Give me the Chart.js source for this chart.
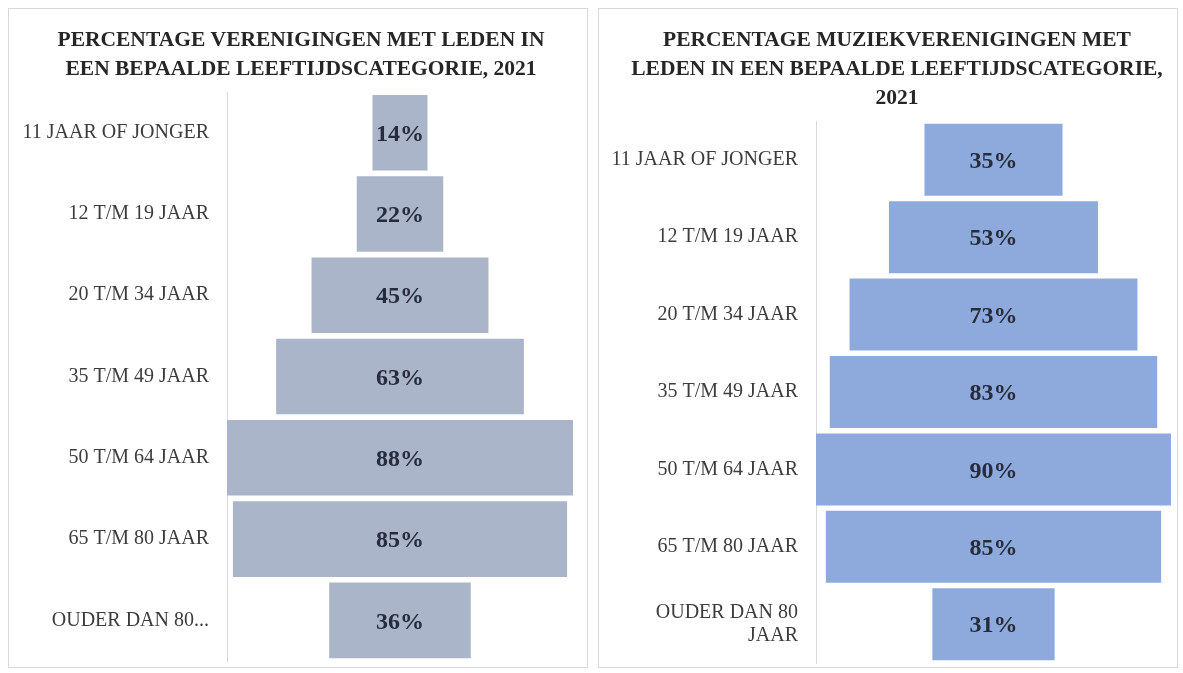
<!DOCTYPE html>
<html>
<head>
<meta charset="utf-8">
<script src="https://cdn.jsdelivr.net/npm/chart.js@4"></script>
<style>
  body { margin: 0; background: #fff; }
  .panel {
    position: absolute;
    top: 8px;
    width: 580px;
    height: 660px;
    border: 1px solid #d9d9d9;
    box-sizing: border-box;
    background: #fff;
  }
  #panel-left { left: 8px; }
  #panel-right { left: 598px; }
</style>
</head>
<body>
<div class="panel" id="panel-left"><canvas id="chart-left"></canvas></div>
<div class="panel" id="panel-right"><canvas id="chart-right"></canvas></div>

<script>
// ------------------------------------------------------------
// DATA
// ------------------------------------------------------------
const leftCategories = [
    "11 JAAR OF JONGER", "12 T/M 19 JAAR", "20 T/M 34 JAAR", "35 T/M 49 JAAR",
    "50 T/M 64 JAAR", "65 T/M 80 JAAR", "OUDER DAN 80..."
];
const leftValues = [14, 22, 45, 63, 88, 85, 36];

const rightCategories = [
    "11 JAAR OF JONGER", "12 T/M 19 JAAR", "20 T/M 34 JAAR", "35 T/M 49 JAAR",
    "50 T/M 64 JAAR", "65 T/M 80 JAAR", ["OUDER DAN 80", "JAAR"]
];
const rightValues = [35, 53, 73, 83, 90, 85, 31];

const leftTitle = ["PERCENTAGE VERENIGINGEN MET LEDEN IN", "EEN BEPAALDE LEEFTIJDSCATEGORIE, 2021"];
const rightTitle = ["PERCENTAGE MUZIEKVERENIGINGEN MET", "LEDEN IN EEN BEPAALDE LEEFTIJDSCATEGORIE,", "2021"];

// ------------------------------------------------------------
// Label plugin: percentage in the middle of each bar
// ------------------------------------------------------------
const centerLabels = {
    id: "centerLabels",
    afterDatasetsDraw(chart) {
        const ctx = chart.ctx;
        const meta = chart.getDatasetMeta(0);
        const values = chart.data.datasets[0].rawValues;
        ctx.save();
        ctx.font = "bold 24px 'Liberation Serif', serif";
        ctx.fillStyle = "#262c3c";
        ctx.textAlign = "center";
        ctx.textBaseline = "middle";
        meta.data.forEach((bar, i) => {
            const p = bar.getProps(["x", "base", "y"], true);
            ctx.fillText(values[i] + "%", (p.x + p.base) / 2, p.y + 2);
        });
        ctx.restore();
    }
};

// Nudge the title block sideways (the original title sits a bit right of centre)
const titleShift = {
    id: "titleShift",
    afterLayout(chart, args, opts) {
        const t = chart.titleBlock;
        if (t && opts.dx) {
            t.left += opts.dx;
            t.right += opts.dx;
        }
    }
};

// Funnel: every bar is centred on zero
function makeFunnel(canvasId, categories, values, title, color, padding, axisWidth, dx) {
    const half = Math.max(...values) / 2;
    const canvas = document.getElementById(canvasId);
    canvas.width = 578;
    canvas.height = 658;

    return new Chart(canvas.getContext("2d"), {
        type: "bar",
        data: {
            labels: categories,
            datasets: [{
                data: values.map(v => [-v / 2, v / 2]),
                rawValues: values,
                backgroundColor: color,
                borderWidth: 0,
                barPercentage: 0.93,
                categoryPercentage: 1
            }]
        },
        options: {
            responsive: false,
            animation: false,
            indexAxis: "y",
            layout: { padding: padding },
            scales: {
                x: {
                    display: false,
                    min: -half,
                    max: half
                },
                y: {
                    grid: { display: false, drawTicks: false },
                    border: { display: true, color: "#d9d9d9", width: 1 },
                    ticks: {
                        color: "#3c3c3c",
                        padding: 18,
                        font: { family: "'Liberation Serif', serif", size: 20, lineHeight: 1.15 }
                    },
                    afterFit(scale) {
                        scale.width = axisWidth;
                        scale.paddingTop = 0;
                        scale.paddingBottom = 0;
                    }
                }
            },
            plugins: {
                legend: { display: false },
                tooltip: { enabled: false },
                titleShift: { dx: dx },
                title: {
                    display: true,
                    text: title,
                    color: "#262626",
                    font: { family: "'Liberation Serif', serif", size: 21.5, weight: "bold", lineHeight: 1.35 },
                    padding: { top: 0, bottom: 8 }
                }
            }
        },
        plugins: [centerLabels, titleShift]
    });
}

makeFunnel("chart-left", leftCategories, leftValues, leftTitle, "#aab5c9",
    { top: 17, left: 0, right: 14, bottom: 6 }, 218, 10);
makeFunnel("chart-right", rightCategories, rightValues, rightTitle, "#8eaadc",
    { top: 17, left: 0, right: 6, bottom: 4 }, 217, 12);
</script>
</body>
</html>
